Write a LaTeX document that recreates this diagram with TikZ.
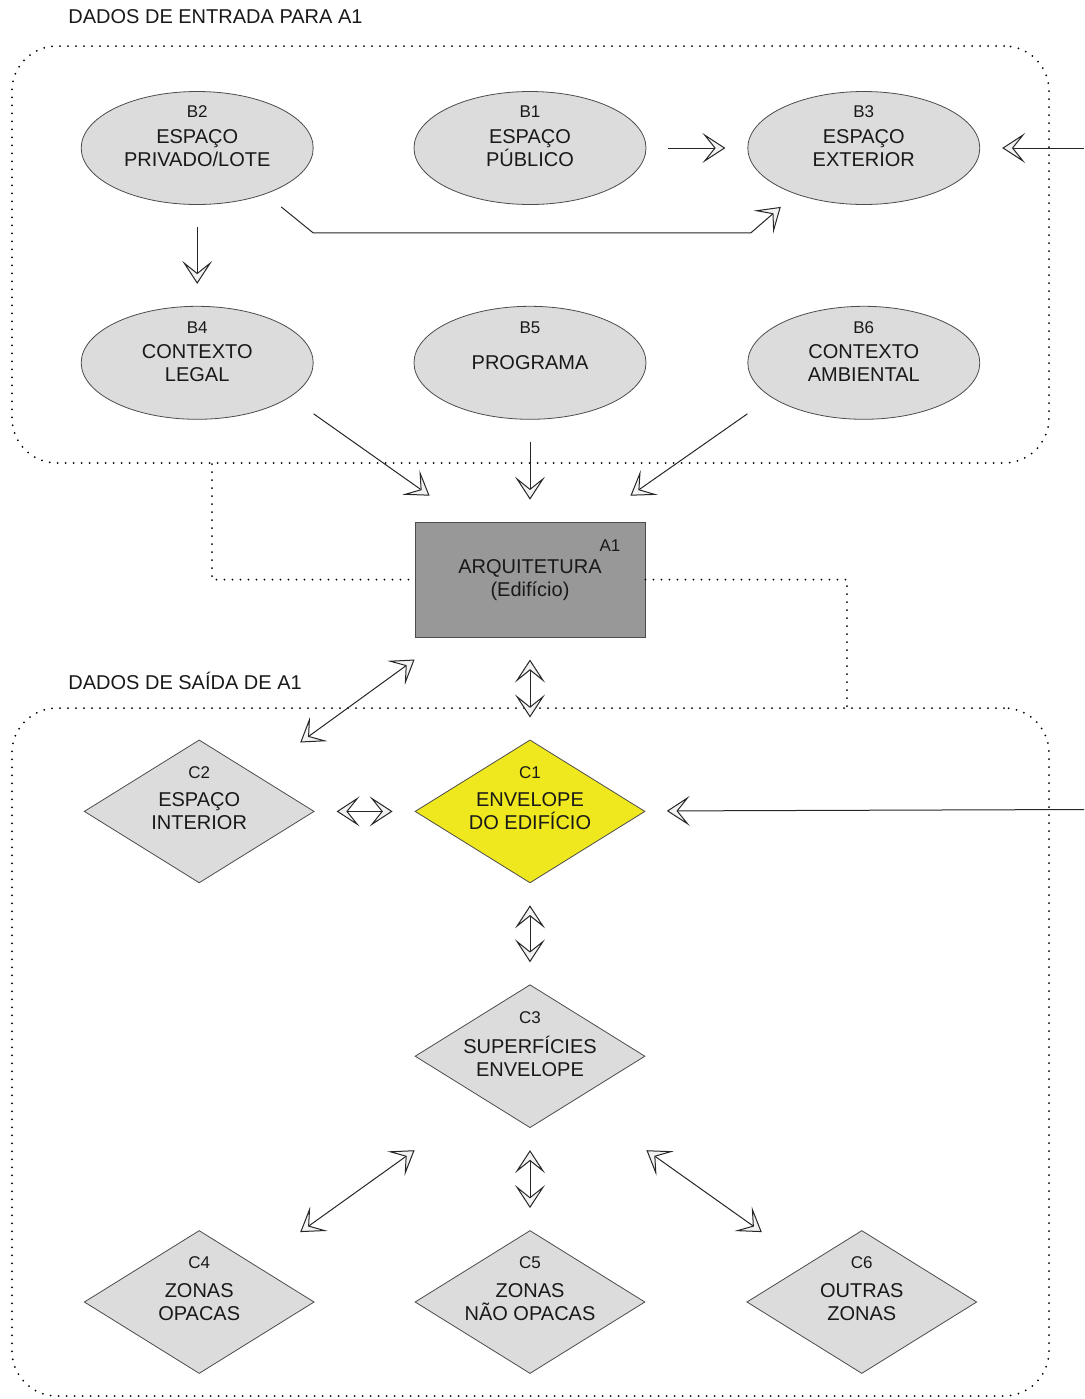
\documentclass[tikz,border=0pt]{standalone}
\usepackage{fontspec}
\setmainfont{Liberation Sans}
\usetikzlibrary{arrows.meta, positioning, shapes.geometric, calc}
\definecolor{cinzaclaro}{RGB}{220,220,220}
\definecolor{cinzaescuro}{RGB}{152,152,152}
\definecolor{amarelo}{RGB}{240,232,30}

\begin{document}
\begin{tikzpicture} [
    x=0.5pt, y=-0.5pt,
    font=\fontsize{10}{11.5}\selectfont,
    >={Stealth[length=11.5pt, width=15pt, inset=6pt, fill=gray!10]},
    every node/.style={align=center, inner sep=0pt, text=black!90},
    oval/.style={draw=black!70, fill=cinzaclaro, shape=ellipse, minimum width=116pt, minimum height=56.5pt},
    losango/.style={draw=black!70, fill=cinzaclaro, shape=diamond, aspect=1.6, minimum width=115pt, minimum height=71.5pt},
    caixa/.style={draw=black!70, fill=cinzaescuro, minimum width=115pt, minimum height=57.5pt},
    idtag/.style={font=\fontsize{8.5}{10}\selectfont},
    dotted frame/.style={draw, line width=1pt, dash pattern=on 0pt off 4pt, line cap=round, rounded corners=22.5pt},
    dotted link/.style={draw, line width=1pt, dash pattern=on 0pt off 4pt, line cap=round},
    every edge/.style={draw, black!85, line width=0.5pt, shorten <=11pt, shorten >=11pt},
    link/.style={draw, black!85, line width=0.5pt}
  ]
  \useasboundingbox (0,0) rectangle (1084,1399);

  % Frames and titles
  \node (ENTRADA) [dotted frame, minimum width=518.5pt, minimum height=208.5pt] at (530.5,254.5) {};
  \node (SAIDA) [dotted frame, minimum width=518.5pt, minimum height=344pt] at (530.5,1052) {};
  \node (ENTRADATXT) [anchor=west] at (68,17) {DADOS DE ENTRADA PARA A1};
  \node (SAIDATXT) [anchor=west] at (68,681) {DADOS DE SAÍDA DE A1};

  % Nodes and Positions
  % LEVEL B (INPUT)
  \node (B1) [oval, label={[idtag, yshift=18pt]center:B1}] at (530,148) {ESPAÇO\\PÚBLICO};
  \node (B2) [oval, left=50pt of B1, label={[idtag, yshift=18pt]center:B2}] {ESPAÇO\\PRIVADO/LOTE};
  \node (B3) [oval, right=50.5pt of B1, label={[idtag, yshift=18pt]center:B3}] {ESPAÇO\\EXTERIOR};
  \node (B4) [oval, below=50.5pt of B2, label={[idtag, yshift=17.5pt]center:B4}] {CONTEXTO\\LEGAL};
  \node (B5) [oval, below=50.5pt of B1, label={[idtag, yshift=17.5pt]center:B5}] {PROGRAMA};
  \node (B6) [oval, below=50.5pt of B3, label={[idtag, yshift=17.5pt]center:B6}] {CONTEXTO\\AMBIENTAL};

  % LEVEL A
  \node (A1) [caixa, below=51pt of B5, label={[idtag, xshift=40pt, yshift=17pt]center:A1}] {ARQUITETURA\\(Edifício)};

  % LEVEL C (OUTPUT)
  \node (C1) [losango, fill=amarelo, below=51pt of A1, label={[idtag, yshift=19.5pt]center:C1}] {ENVELOPE\\DO EDIFÍCIO};
  \node (C2) [losango, left=50pt of C1, label={[idtag, yshift=19.5pt]center:C2}] {ESPAÇO\\INTERIOR};
  \node (C3) [losango, below=50.5pt of C1, label={[idtag, yshift=19.5pt]center:C3}] {SUPERFÍCIES\\ENVELOPE};
  \node (C5) [losango, below=51pt of C3, label={[idtag, yshift=19.5pt]center:C5}] {ZONAS\\NÃO OPACAS};
  \node (C4) [losango, left=50pt of C5, label={[idtag, yshift=19.5pt]center:C4}] {ZONAS\\OPACAS};
  \node (C6) [losango, right=50.5pt of C5, label={[idtag, yshift=19.5pt]center:C6}] {OUTRAS\\ZONAS};

  \coordinate (EXTB3) at (1084,148);
  \coordinate (EXTC1) at (1084,809.5);

  % Edges
  \path (B1) edge[->] (B3);
  \path (EXTB3) edge[->, shorten <=0pt] (B3);
  \path (B2) edge[->] (B4);
  \draw[link, ->] ($(B2.south)+(84,2)$) -- ++(32,26) -- ($(B3.south)+(-113,28)$) -- ($(B3.south)+(-83,2)$);

  \draw[link, ->] ($(B4.east)+(0,51)$) -- ($(A1.north west)+(15,-26)$);
  \path (B5) edge[->] (A1);
  \draw[link, ->] ($(B6.west)+(0,51)$) -- ($(A1.north east)+(-15,-26)$);

  \draw[dotted link] ($(ENTRADA.south west)+(201,0)$) |- (A1.west);
  \draw[dotted link] (A1.east) -| ($(SAIDA.north west)+(836,0)$);

  \draw[link, <->] ($(A1.south west)+(0,22)$) -- ($(C2.north)+(101,3)$);
  \path (A1) edge[<->] (C1);
  \path (C2) edge[<->] (C1);
  \path (EXTC1) edge[->, shorten <=0pt] (C1);
  \path (C1) edge[<->] (C3);

  \draw[link, <->] ($(C3.west)+(0,94)$) -- ($(C4.north)+(101,2)$);
  \path (C3) edge[<->] (C5);
  \draw[link, <->] ($(C3.east)+(1,94)$) -- ($(C6.north)+(-100,2)$);

\end{tikzpicture}
\end{document}
